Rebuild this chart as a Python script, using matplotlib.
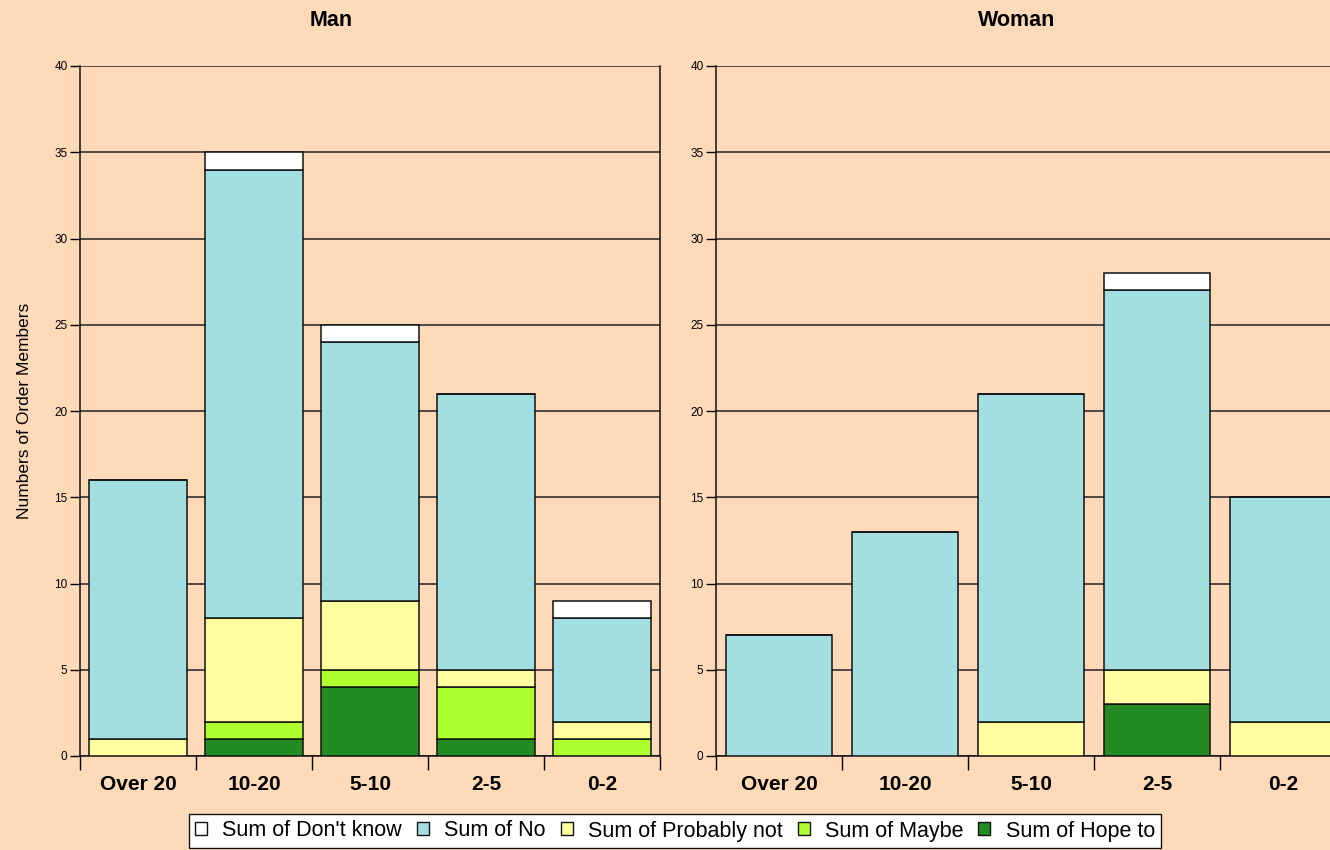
import numpy as np
import matplotlib.pyplot as plt
from matplotlib.patches import Patch

plt.rcParams.update({'font.family': ['Liberation Sans', 'DejaVu Sans']})

# Data
categories = ['Over 20', '10-20', '5-10', '2-5', '0-2']
series = ['Hope to', 'Maybe', 'Probably not', 'No', "Don't know"]

man_hope = [0, 1, 4, 1, 0]
man_maybe = [0, 1, 1, 3, 1]
man_probnot = [1, 6, 4, 1, 1]
man_no = [15, 26, 15, 16, 6]
man_dk = [0, 1, 1, 0, 1]

woman_hope = [0, 0, 0, 3, 0]
woman_maybe = [0, 0, 0, 0, 0]
woman_probnot = [0, 0, 2, 2, 2]
woman_no = [7, 13, 19, 22, 13]
woman_dk = [0, 0, 0, 1, 0]

colors = ['#228b22', '#adff2f', '#ffffa0', '#a3dfe0', '#ffffff']
bg = '#ffdab9'

fig = plt.figure(figsize=(13.3, 8.5), dpi=100, facecolor=bg)
W, H = 1330, 850
ax_man = fig.add_axes([80 / W, 94 / H, 580 / W, 690 / H])
ax_wom = fig.add_axes([716 / W, 94 / H, 630 / W, 690 / H])


def draw(ax, stacks):
	x = np.arange(len(categories))
	bottom = np.zeros(len(categories))
	for vals, c in zip(stacks, colors):
		vals = np.array(vals, dtype=float)
		ax.bar(x, vals, bottom=bottom, width=0.84, color=c,
			   edgecolor='#111111', linewidth=1.1, zorder=3)
		bottom += vals
	ax.set_facecolor(bg)
	ax.set_xlim(-0.5, len(categories) - 0.5)
	ax.set_ylim(0, 40)
	ax.set_yticks(np.arange(0, 41, 5))
	ax.yaxis.grid(True, color='#222222', linewidth=1.1, zorder=0)
	ax.set_axisbelow(True)
	ax.tick_params(axis='y', labelsize=8.5, length=7, width=1, pad=2)
	ax.set_xticks(x)
	ax.set_xticklabels(categories, fontsize=15, fontweight='bold')
	ax.set_xticks(np.arange(-0.5, len(categories)), minor=True)
	ax.tick_params(axis='x', which='major', length=0, pad=14)
	ax.tick_params(axis='x', which='minor', length=10, width=1)
	for s in ax.spines.values():
		s.set_color('#111111')
		s.set_linewidth(1.1)
	ax.spines['top'].set_visible(False)


draw(ax_man, [man_hope, man_maybe, man_probnot, man_no, man_dk])
draw(ax_wom, [woman_hope, woman_maybe, woman_probnot, woman_no, woman_dk])

ax_man.set_ylabel('Numbers of Order Members', fontsize=12.5, labelpad=16)

fig.text(331 / W, 1 - 21 / H, 'Man', fontsize=15.5, fontweight='bold', ha='center', va='center')
fig.text(1017 / W, 1 - 21 / H, 'Woman', fontsize=15.5, fontweight='bold', ha='center', va='center')

# Legend
handles = [Patch(facecolor=colors[i], edgecolor='#111111', linewidth=1)
		   for i in range(len(series) - 1, -1, -1)]
labels = ['Sum of ' + series[i] for i in range(len(series) - 1, -1, -1)]
leg = fig.legend(handles, labels, loc='center', bbox_to_anchor=(675 / W, 1 - 831 / H),
				 ncols=5, fontsize=15.5, frameon=True, fancybox=False,
				 edgecolor='#111111', framealpha=1, handlelength=0.56, handleheight=0.56,
				 handletextpad=0.7, columnspacing=0.7, borderpad=0.3, borderaxespad=0)
leg.get_frame().set_linewidth(1)

plt.savefig('out.png', dpi=100, facecolor=bg)
